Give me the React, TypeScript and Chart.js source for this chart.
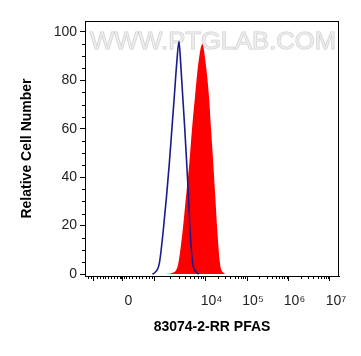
import React, { useEffect, useRef } from "react";
import { Chart, registerables } from "chart.js";
Chart.register(...registerables);

// Blue (control) histogram: x in display (decade) units, y in % of max
const blueX = [2.72, 2.78, 2.887, 2.983, 3.06, 3.128, 3.19, 3.248, 3.306, 3.361, 3.402, 3.451, 3.5, 3.547, 3.59, 3.627, 3.692, 3.788, 3.84];
const blueY = [0, 0.6, 4.4, 18.2, 32, 45.7, 60, 73.3, 87, 96, 87, 73.3, 60, 45.7, 32, 18.2, 4.4, 0.6, 0];

// Red (stained) histogram
const redX = [3.05, 3.224, 3.345, 3.451, 3.53, 3.61, 3.675, 3.747, 3.827, 3.923, 4.005, 4.084, 4.133, 4.188, 4.236, 4.284, 4.349, 4.429, 4.49];
const redY = [0, 0.6, 4.4, 18.2, 32, 45.7, 60, 73.3, 87, 95, 87, 73.3, 60, 45.7, 32, 18.2, 4.4, 0.6, 0];

const xMajorTicks = [1.31, 2, 2.78, 4, 5, 6, 7];
const xTickLabels = ["", "0", "", "10⁴", "10⁵", "10⁶", "10⁷"];
const xMinorTicks = [
  1.17, 1.24, 1.38, 1.45, 1.52, 1.59, 1.66, 1.73, 1.8, 1.87, 1.93, 1.97,
  2.03, 2.08, 2.16, 2.24, 2.32, 2.4, 2.48, 2.56, 2.64, 2.72,
  3.147, 3.362, 3.514, 3.633, 3.729, 3.811, 3.882, 3.944,
  4.301, 4.477, 4.602, 4.699, 4.778, 4.845, 4.903, 4.954,
  5.301, 5.477, 5.602, 5.699, 5.778, 5.845, 5.903, 5.954,
  6.301, 6.477, 6.602, 6.699, 6.778, 6.845, 6.903, 6.954,
];
const yMajorTicks = [0, 20, 40, 60, 80, 100];
const yMinorTicks = [5, 10, 15, 25, 30, 35, 45, 50, 55, 65, 70, 75, 85, 90, 95];

const xTitle = "83074-2-RR PFAS";
const yTitle = "Relative Cell Number";
const watermark = "WWW.PTGLAB.COM";

const FONT = "'Liberation Sans', Arial, Helvetica, sans-serif";

export default function App() {
  const ref = useRef<HTMLCanvasElement>(null);

  useEffect(() => {
    const canvas = ref.current!;
    Chart.defaults.font.family = FONT;
    const toPts = (xs: number[], ys: number[]) => xs.map((x, i) => ({ x, y: ys[i] }));

    const framePlugin = {
      id: "frameAndMarks",
      beforeDatasetsDraw(chart: any) {
        const { ctx, chartArea: a } = chart;
        ctx.save();
        ctx.font = `23px ${FONT}`;
        const w = ctx.measureText(watermark).width;
        ctx.translate(a.left + 5, 49);
        ctx.scale(246 / w, 1);
        ctx.textBaseline = "alphabetic";
        ctx.lineWidth = 1;
        ctx.strokeStyle = "rgba(160,160,160,0.5)";
        ctx.strokeText(watermark, 0, 0);
        ctx.fillStyle = "rgba(235,235,235,0.7)";
        ctx.fillText(watermark, 0, 0);
        ctx.restore();
      },
      afterDraw(chart: any) {
        const { ctx, chartArea: a, scales } = chart;
        ctx.save();
        ctx.strokeStyle = "#000";
        ctx.lineWidth = 1;
        ctx.beginPath();
        for (const v of xMinorTicks) {
          const px = Math.round(scales.x.getPixelForValue(v)) + 0.5;
          ctx.moveTo(px, a.bottom);
          ctx.lineTo(px, a.bottom + 3);
        }
        for (const v of yMinorTicks) {
          const py = Math.round(scales.y.getPixelForValue(v)) + 0.5;
          ctx.moveTo(a.left, py);
          ctx.lineTo(a.left - 3, py);
        }
        ctx.stroke();
        ctx.strokeRect(Math.round(a.left) + 0.5, Math.round(a.top) + 0.5, Math.round(a.right - a.left) - 1, Math.round(a.bottom - a.top));
        ctx.restore();
      },
    };

    const chart = new Chart(canvas, {
      type: "line",
      data: {
        datasets: [
          {
            label: "Control",
            data: toPts(blueX, blueY),
            borderColor: "#1a1a8e",
            borderWidth: 1.6,
            pointRadius: 0,
            fill: false,
            cubicInterpolationMode: "monotone",
            order: 0,
          },
          {
            label: "PFAS",
            data: toPts(redX, redY),
            borderColor: "#ff0000",
            backgroundColor: "#ff0000",
            borderWidth: 0,
            pointRadius: 0,
            fill: "origin",
            cubicInterpolationMode: "monotone",
            order: 1,
          },
        ],
      },
      options: {
        animation: false,
        responsive: false,
        maintainAspectRatio: false,
        layout: { padding: { top: 21, right: 22, left: 0, bottom: 0 } },
        plugins: { legend: { display: false }, tooltip: { enabled: false } },
        scales: {
          x: {
            type: "linear",
            min: 1.096,
            max: 7.217,
            afterBuildTicks: (s: any) => {
              s.ticks = xMajorTicks.map((v) => ({ value: v }));
            },
            afterFit: (s: any) => {
              s.height = 80;
            },
            ticks: {
              autoSkip: false,
              maxRotation: 0,
              padding: 12,
              labelOffset: 6,
              color: "#222",
              font: { size: 14 },
              callback: (_v: any, i: number) => xTickLabels[i],
            },
            grid: { drawOnChartArea: false, drawTicks: true, tickLength: 5, color: "#000" },
            border: { display: true, color: "#000", width: 1 },
            title: {
              display: true,
              text: xTitle,
              color: "#000",
              font: { size: 14, weight: "bold" },
              padding: { top: 0, bottom: 20 },
            },
          },
          y: {
            type: "linear",
            min: -0.8,
            max: 104.5,
            afterBuildTicks: (s: any) => {
              s.ticks = yMajorTicks.map((v) => ({ value: v }));
            },
            afterFit: (s: any) => {
              s.width = 85;
            },
            ticks: {
              padding: 3,
              color: "#222",
              font: { size: 14 },
              callback: (v: any) => String(v),
            },
            grid: { drawOnChartArea: false, drawTicks: true, tickLength: 5, color: "#000" },
            border: { display: true, color: "#000", width: 1 },
            title: {
              display: true,
              text: yTitle,
              color: "#000",
              font: { size: 14, weight: "bold" },
              padding: { top: 19, bottom: 0 },
            },
          },
        },
      },
      plugins: [framePlugin],
    } as any);

    return () => chart.destroy();
  }, []);

  return (
    <div style={{ position: "absolute", left: 0, top: 0, width: 361, height: 356, background: "#fff" }}>
      <canvas ref={ref} width={361} height={356} style={{ display: "block", width: 361, height: 356 }} />
    </div>
  );
}
